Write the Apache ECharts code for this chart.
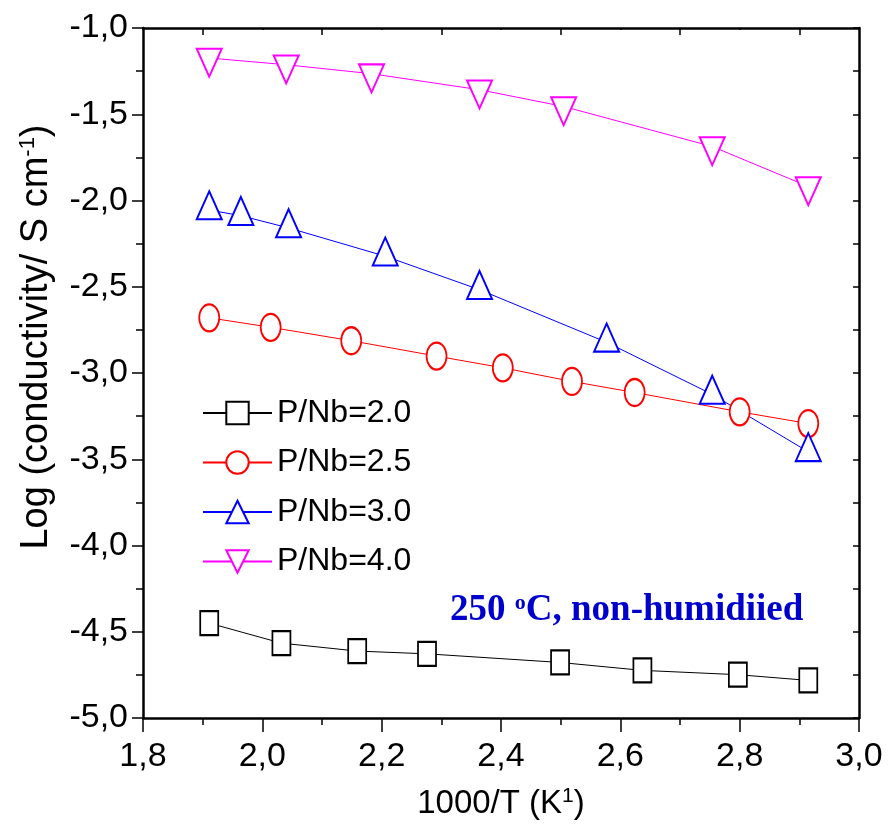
<!DOCTYPE html>
<html>
<head>
<meta charset="utf-8">
<script src="https://cdn.jsdelivr.net/npm/echarts@6/dist/echarts.min.js"></script>
<style>
  html, body { margin: 0; padding: 0; background: #fff; }
  #chart { width: 890px; height: 826px; }
</style>
</head>
<body>
<div id="chart"></div>
<script>
// ---- data ----
const seriesNames = ['P/Nb=2.0', 'P/Nb=2.5', 'P/Nb=3.0', 'P/Nb=4.0'];

const x20 = [1.911, 2.032, 2.159, 2.276, 2.499, 2.637, 2.797, 2.915];
const y20 = [-4.450, -4.566, -4.612, -4.628, -4.678, -4.724, -4.749, -4.782];

const x25 = [1.911, 2.014, 2.149, 2.292, 2.403, 2.519, 2.624, 2.800, 2.915];
const y25 = [-2.680, -2.735, -2.813, -2.902, -2.970, -3.049, -3.113, -3.225, -3.293];

const x30 = [1.911, 1.964, 2.044, 2.206, 2.364, 2.577, 2.754, 2.915];
const y30 = [-2.055, -2.088, -2.159, -2.323, -2.517, -2.822, -3.124, -3.457];

const x40 = [1.911, 2.040, 2.183, 2.364, 2.505, 2.754, 2.915];
const y40 = [-1.174, -1.213, -1.265, -1.358, -1.455, -1.687, -1.919];

const xMin = 1.8, xMax = 3.0, xStep = 0.2;
const yMin = -5.0, yMax = -1.0, yStep = 0.5;

const xTitle = '1000/T (K{sup|1})';
const yTitle = 'Log (conductivity/ S cm{sup|-1})';
const note = '250 {o|o}C, non-humidiied';

// ---- build chart ----
const pairs = (xs, ys) => xs.map((x, i) => [x, ys[i]]);
const comma = v => v.toFixed(1).replace('.', ',');
const FONT = 'Liberation Sans';

const chart = echarts.init(document.getElementById('chart'), null, { renderer: 'canvas' });

function mkSeries(name, data, color, symbol, size, offset) {
  return {
    name, type: 'line', data,
    xAxisIndex: 0, yAxisIndex: 0,
    symbol, symbolSize: size, symbolOffset: offset || [0, 0],
    showAllSymbol: true,
    lineStyle: { color, width: 1 },
    itemStyle: { color: '#fff', borderColor: color, borderWidth: 2 },
    emphasis: { disabled: true },
    z: 3
  };
}

const option = {
  animation: false,
  backgroundColor: '#fff',
  grid: { left: 143, right: 31, top: 28, bottom: 108, containLabel: false },
  legend: {
    orient: 'vertical',
    left: 202, top: 397,
    padding: 0,
    itemWidth: 69, itemHeight: 28, itemGap: 17.5,
    textStyle: { fontFamily: FONT, fontSize: 32, color: '#000', lineHeight: 32 },
    data: seriesNames
  },
  xAxis: [{
    type: 'value', position: 'bottom',
    min: xMin, max: xMax, interval: xStep,
    name: xTitle, nameLocation: 'middle', nameGap: 68,
    nameTextStyle: { fontFamily: FONT, fontSize: 33, color: '#000', lineHeight: 35,
      rich: { sup: { fontFamily: FONT, fontSize: 21, verticalAlign: 'top', lineHeight: 21, color: '#000' } } },
    axisLine: { show: true, onZero: false, lineStyle: { color: '#000', width: 2.5 } },
    axisTick: { show: true, inside: false, length: 14, lineStyle: { color: '#000', width: 1.5 } },
    minorTick: { show: true, splitNumber: 2, length: 7, lineStyle: { color: '#000', width: 1.5 } },
    axisLabel: { fontFamily: FONT, fontSize: 34, color: '#000', margin: 22, formatter: comma },
    splitLine: { show: false }
  }, {
    type: 'value', position: 'top',
    min: xMin, max: xMax, interval: xStep,
    axisLine: { show: true, onZero: false, lineStyle: { color: '#000', width: 2.5 } },
    axisTick: { show: true, inside: true, length: 2, lineStyle: { color: '#000', width: 1.5 } },
    minorTick: { show: true, splitNumber: 2, length: 7, lineStyle: { color: '#000', width: 1.5 } },
    axisLabel: { show: false },
    splitLine: { show: false }
  }],
  yAxis: [{
    type: 'value', position: 'left',
    min: yMin, max: yMax, interval: yStep,
    name: yTitle, nameLocation: 'middle', nameGap: 86, nameRotate: 90,
    nameTextStyle: { fontFamily: FONT, fontSize: 38, color: '#000', lineHeight: 40, padding: [0, 0, 0, 72],
      rich: { sup: { fontFamily: FONT, fontSize: 22, verticalAlign: 'top', lineHeight: 22, color: '#000' } } },
    axisLine: { show: true, onZero: false, lineStyle: { color: '#000', width: 2.5 } },
    axisTick: { show: true, inside: false, length: 11, lineStyle: { color: '#000', width: 1.5 } },
    minorTick: { show: true, splitNumber: 2, length: 7, lineStyle: { color: '#000', width: 1.5 } },
    axisLabel: { fontFamily: FONT, fontSize: 34, color: '#000', margin: 15, formatter: comma },
    splitLine: { show: false }
  }, {
    type: 'value', position: 'right',
    min: yMin, max: yMax, interval: yStep,
    axisLine: { show: true, onZero: false, lineStyle: { color: '#000', width: 2.5 } },
    axisTick: { show: true, inside: true, length: 6, lineStyle: { color: '#000', width: 1.5 } },
    minorTick: { show: true, splitNumber: 2, length: 6, lineStyle: { color: '#000', width: 1.5 } },
    axisLabel: { show: false },
    splitLine: { show: false }
  }],
  graphic: [{
    type: 'text', left: 450, top: 592, z: 10,
    style: {
      text: note,
      font: 'bold 37px "Liberation Serif"',
      fill: '#0000cc',
      rich: {
        o: { font: 'bold 22px "Liberation Serif"', fill: '#0000cc', verticalAlign: 'top', lineHeight: 22 }
      }
    }
  }],
  series: [
    mkSeries(seriesNames[0], pairs(x20, y20), '#000000', 'rect', [18, 24]),
    mkSeries(seriesNames[1], pairs(x25, y25), '#ff0000', 'circle', [20, 27]),
    mkSeries(seriesNames[2], pairs(x30, y30), '#0000ff', 'triangle', [25, 28], [0, -4.7]),
    mkSeries(seriesNames[3], pairs(x40, y40), '#ff00ff', 'path://M0,0L10,0L5,10Z', [25, 28], [0, 4.7])
  ]
};

chart.setOption(option);
</script>
</body>
</html>
